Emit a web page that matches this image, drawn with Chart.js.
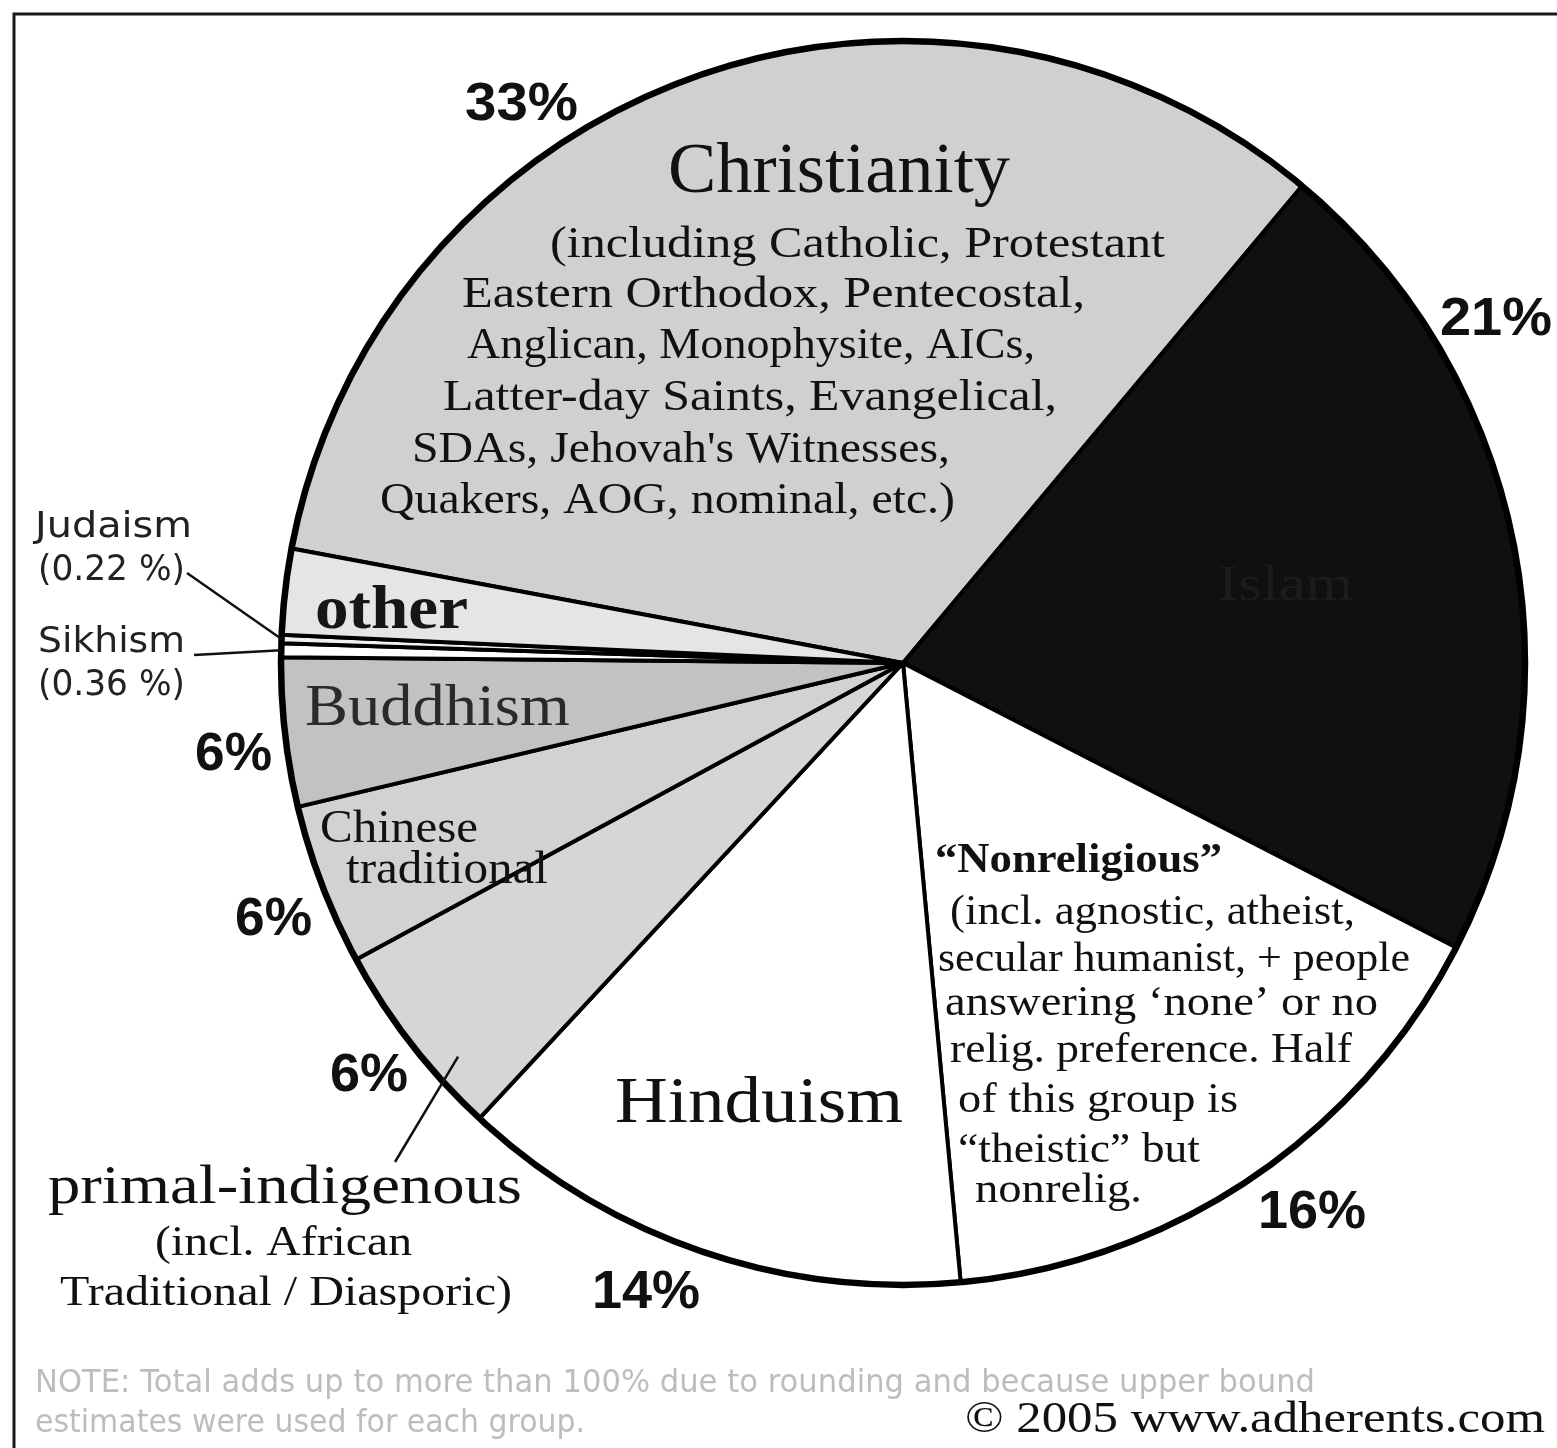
<!DOCTYPE html>
<html>
<head>
<meta charset="utf-8">
<script src="https://cdn.jsdelivr.net/npm/chart.js@4.4.1/dist/chart.umd.min.js"></script>
<style>
html,body{margin:0;padding:0;background:#fff;width:1557px;height:1448px;overflow:hidden}
canvas{display:block}
</style>
</head>
<body>
<canvas id="c" width="1557" height="1448"></canvas>
<script>
// ---- data ----
const categories = ['Christianity','Islam','Nonreligious','Hinduism','primal-indigenous','Chinese traditional','Buddhism','Sikhism','Judaism','other'];
const shares = [33.14, 21.47, 15.96, 13.40, 5.17, 4.19, 3.86, 0.36, 0.22, 2.22];
const percentLabels = ['33%','21%','16%','14%','6%','6%','6%','(0.36 %)','(0.22 %)',''];

// ---- styles ----
const sliceFills = ['#d0d0d0','#101010','#ffffff','#ffffff','#d6d6d6','#d2d2d2','#c2c2c2','#ffffff','#f0f0f0','#e5e5e5'];

const SERIF = '"Liberation Serif", "DejaVu Serif", serif';
const SANS = '"Liberation Sans", Arial, sans-serif';
const DSANS = '"DejaVu Sans", sans-serif';

// annotation text layout: x (left), y (baseline), size, width fit
const texts = [
  // percentages
  {t: percentLabels[0], x: 465, y: 120, s: 53, f: SANS, wt: 'bold', w: 113},
  {t: percentLabels[1], x: 1440, y: 335, s: 53, f: SANS, wt: 'bold', w: 112},
  {t: percentLabels[2], x: 1258, y: 1228, s: 53, f: SANS, wt: 'bold', w: 108},
  {t: percentLabels[3], x: 592, y: 1308, s: 53, f: SANS, wt: 'bold', w: 108},
  {t: percentLabels[6], x: 195, y: 770, s: 53, f: SANS, wt: 'bold', w: 77},
  {t: percentLabels[5], x: 235, y: 935, s: 53, f: SANS, wt: 'bold', w: 77},
  {t: percentLabels[4], x: 330, y: 1091, s: 53, f: SANS, wt: 'bold', w: 78},
  // Christianity
  {t: 'Christianity', x: 668, y: 192, s: 72, f: SERIF, w: 342},
  {t: '(including Catholic, Protestant', x: 550, y: 257, s: 44, f: SERIF, w: 615},
  {t: 'Eastern Orthodox, Pentecostal,', x: 462, y: 307, s: 44, f: SERIF, w: 623},
  {t: 'Anglican, Monophysite, AICs,', x: 467, y: 358, s: 44, f: SERIF, w: 568},
  {t: 'Latter-day Saints, Evangelical,', x: 443, y: 410, s: 44, f: SERIF, w: 614},
  {t: "SDAs, Jehovah's Witnesses,", x: 412, y: 462, s: 44, f: SERIF, w: 538},
  {t: 'Quakers, AOG, nominal, etc.)', x: 380, y: 513, s: 44, f: SERIF, w: 575},
  // Islam (dark on dark, barely visible)
  {t: 'Islam', x: 1218, y: 600, s: 50, f: SERIF, w: 135, c: '#1c1c1c'},
  // small slices
  {t: 'other', x: 315, y: 628, s: 62, f: SERIF, wt: 'bold', w: 153, c: '#161616'},
  {t: 'Buddhism', x: 305, y: 725, s: 60, f: SERIF, w: 265, c: '#2a2a2a'},
  {t: 'Chinese', x: 320, y: 842, s: 46, f: SERIF, w: 158},
  {t: 'traditional', x: 346, y: 883, s: 46, f: SERIF, w: 202},
  {t: 'Hinduism', x: 615, y: 1122, s: 66, f: SERIF, w: 288},
  // Nonreligious
  {t: '\u201cNonreligious\u201d', x: 935, y: 872, s: 42, f: SERIF, wt: 'bold', w: 287},
  {t: '(incl. agnostic, atheist,', x: 950, y: 924, s: 42, f: SERIF, w: 405},
  {t: 'secular humanist, + people', x: 938, y: 971, s: 42, f: SERIF, w: 472},
  {t: 'answering \u2018none\u2019 or no', x: 945, y: 1015, s: 42, f: SERIF, w: 433},
  {t: 'relig. preference. Half', x: 950, y: 1062, s: 42, f: SERIF, w: 402},
  {t: 'of this group is', x: 958, y: 1112, s: 42, f: SERIF, w: 280},
  {t: '\u201ctheistic\u201d but', x: 958, y: 1162, s: 42, f: SERIF, w: 242},
  {t: 'nonrelig.', x: 975, y: 1202, s: 42, f: SERIF, w: 167},
  // primal-indigenous
  {t: 'primal-indigenous', x: 48, y: 1203, s: 54, f: SERIF, w: 474},
  {t: '(incl. African', x: 155, y: 1255, s: 42, f: SERIF, w: 257},
  {t: 'Traditional / Diasporic)', x: 60, y: 1305, s: 42, f: SERIF, w: 452},
  // Judaism / Sikhism
  {t: 'Judaism', x: 35, y: 537, s: 36, f: DSANS, w: 157, c: '#222'},
  {t: percentLabels[8], x: 38, y: 580, s: 36, f: DSANS, w: 147, c: '#222'},
  {t: 'Sikhism', x: 38, y: 652, s: 36, f: DSANS, w: 147, c: '#222'},
  {t: percentLabels[7], x: 38, y: 695, s: 36, f: DSANS, w: 147, c: '#222'},
  // footer
  {t: 'NOTE: Total adds up to more than 100% due to rounding and because upper bound', x: 35, y: 1392, s: 32, f: DSANS, w: 1280, c: '#bdbdbd'},
  {t: 'estimates were used for each group.', x: 35, y: 1432, s: 32, f: DSANS, w: 550, c: '#bdbdbd'},
  {t: '\u00a9 2005 www.adherents.com', x: 965, y: 1432, s: 44, f: SERIF, w: 580, c: '#111'}
];

// leader lines: from label point to a point on a slice (fraction along slice, fraction of radius)
const leaders = [
  {cat: 'Judaism', x: 187, y: 573, f: 0.5, r: 1.0},
  {cat: 'Sikhism', x: 194, y: 655, f: 0.5, r: 1.0},
  {cat: 'primal-indigenous', x: 395, y: 1162, f: 0.3, r: 0.955}
];

function drawText(ctx, o) {
  ctx.save();
  ctx.font = (o.wt || 'normal') + ' ' + o.s + 'px ' + o.f;
  ctx.fillStyle = o.c || '#111';
  ctx.textBaseline = 'alphabetic';
  ctx.textAlign = 'left';
  const w = ctx.measureText(o.t).width;
  const sx = o.w && w > 0 ? o.w / w : 1;
  ctx.translate(o.x, o.y);
  ctx.scale(sx, 1);
  ctx.fillText(o.t, 0, 0);
  ctx.restore();
}

const decor = {
  id: 'decor',
  beforeDraw(chart) {
    const ctx = chart.ctx;
    ctx.save();
    ctx.fillStyle = '#fff';
    ctx.fillRect(0, 0, chart.width, chart.height);
    ctx.strokeStyle = '#1a1a1a';
    ctx.lineWidth = 3;
    ctx.beginPath();
    ctx.moveTo(14, chart.height);
    ctx.lineTo(14, 14);
    ctx.lineTo(chart.width, 14);
    ctx.stroke();
    ctx.restore();
  },
  afterDatasetsDraw(chart) {
    const ctx = chart.ctx;
    const arcs = chart.getDatasetMeta(0).data;
    const cx = arcs[0].x, cy = arcs[0].y, R = arcs[0].outerRadius;
    ctx.save();
    ctx.strokeStyle = '#000';
    ctx.lineWidth = 6.5;
    ctx.beginPath();
    ctx.arc(cx, cy, R, 0, Math.PI * 2);
    ctx.stroke();
    ctx.lineWidth = 2.5;
    ctx.strokeStyle = '#111';
    leaders.forEach(l => {
      const a = arcs[categories.indexOf(l.cat)];
      const ang = a.startAngle + l.f * (a.endAngle - a.startAngle);
      ctx.beginPath();
      ctx.moveTo(l.x, l.y);
      ctx.lineTo(cx + l.r * R * Math.cos(ang), cy + l.r * R * Math.sin(ang));
      ctx.stroke();
    });
    ctx.restore();
    texts.forEach(o => drawText(ctx, o));
  }
};

new Chart(document.getElementById('c'), {
  type: 'pie',
  data: {
    labels: categories,
    datasets: [{
      data: shares,
      backgroundColor: sliceFills,
      borderColor: '#000',
      borderWidth: 4
    }]
  },
  options: {
    responsive: false,
    animation: false,
    devicePixelRatio: 1,
    rotation: -79.4,
    radius: 622,
    layout: {padding: {left: 283, right: 34, top: 43, bottom: 165}},
    plugins: {legend: {display: false}, tooltip: {enabled: false}},
    events: []
  },
  plugins: [decor]
});
</script>
</body>
</html>
